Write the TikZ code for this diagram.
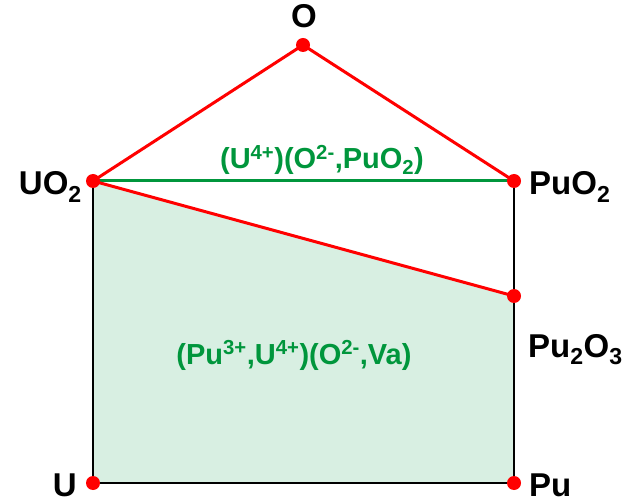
\documentclass[tikz,border=0pt]{standalone}
\usepackage{fontspec}
\setmainfont{Liberation Sans}
\usepackage{xcolor}
\usetikzlibrary{positioning,calc}
\definecolor{phasered}{RGB}{255,0,0}
\definecolor{phasegreen}{RGB}{0,150,60}
\definecolor{phasefill}{RGB}{216,239,226}
\tikzset{
    corner/.style={
        font=\fontsize{33}{38}\selectfont\bfseries, inner sep=0pt
    },
    phaselabel/.style={
        font=\fontsize{29}{34}\selectfont\bfseries, text=phasegreen, inner sep=0pt
    },
    redline/.style={draw=phasered, line width=3pt},
    greenline/.style={draw=phasegreen, line width=3pt},
    edge/.style={draw=black, line width=2.5pt},
    reddot/.style={circle, fill=phasered, inner sep=0pt, minimum size=14pt}
}

\begin{document}
\begin{tikzpicture}[x=1pt, y=-1pt]

\useasboundingbox (0,0) rectangle (634,502);

%% Corner points of the section
\coordinate (o)     at (303, 45);
\coordinate (uo2)   at (93, 181);
\coordinate (puo2)  at (514, 181);
\coordinate (pu2o3) at (514, 296);
\coordinate (u)     at (93, 483);
\coordinate (pu)    at (514, 483);

%% Single phase region
\fill[phasefill] (uo2) -- (pu2o3) -- (pu) -- (u) -- cycle;

%% Black borders
\draw[edge] (uo2) -- (u) -- (pu) -- (puo2);

%% Green tie line
\draw[greenline] (uo2) -- (puo2);

%% Red lines
\draw[redline] (uo2) -- (o) -- (puo2);
\draw[redline] (uo2) -- (pu2o3);

%% Dots
\foreach \p in {o, uo2, puo2, pu2o3, u, pu}
    \node[reddot] (dot-\p) at (\p) {};

%% Corner labels
\node[corner, anchor=base]      (lab-o)     at (304, 28)  {O};
\node[corner, anchor=base east] (lab-uo2)   at (82, 195)  {UO\textsubscript{2}};
\node[corner, anchor=base west] (lab-puo2)  at (529, 195) {PuO\textsubscript{2}};
\node[corner, anchor=base west] (lab-pu2o3) at (528, 357) {Pu\textsubscript{2}O\textsubscript{3}};
\node[corner, anchor=base east] (lab-u)     at (77, 496)  {U};
\node[corner, anchor=base west] (lab-pu)    at (529, 496) {Pu};

%% Phase labels
\node[phaselabel, anchor=base] (fluorite) at (322, 169)
    {(U\textsuperscript{4+})(O\textsuperscript{2-},PuO\textsubscript{2})};
\node[phaselabel, anchor=base] (sesqui)   at (294, 364)
    {(Pu\textsuperscript{3+},U\textsuperscript{4+})(O\textsuperscript{2-},Va)};

\end{tikzpicture}
\end{document}
